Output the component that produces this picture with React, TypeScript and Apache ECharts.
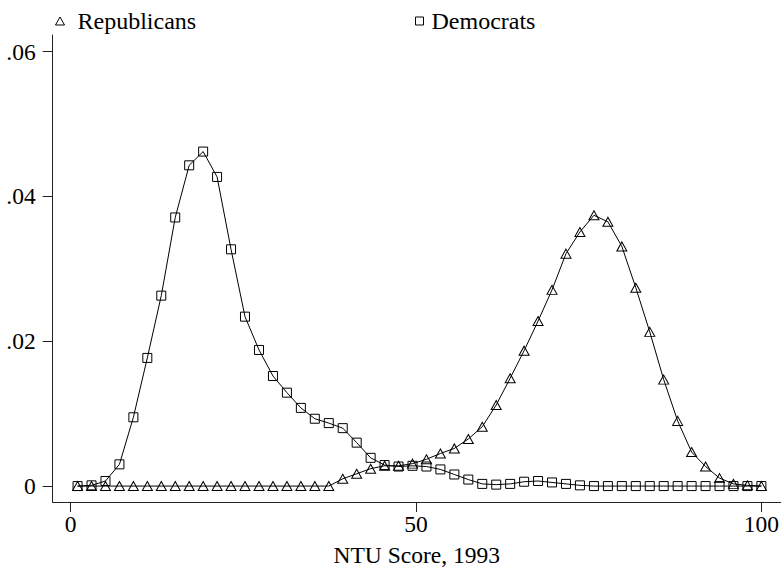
import React, { useEffect, useRef } from "react";
import * as echarts from "echarts";

const score = [
  1.0, 3.02, 5.04, 7.06, 9.08, 11.1, 13.12, 15.14, 17.16, 19.18,
  21.2, 23.22, 25.24, 27.27, 29.29, 31.31, 33.33, 35.35, 37.37, 39.39,
  41.41, 43.43, 45.45, 47.47, 49.49, 51.51, 53.53, 55.55, 57.57, 59.59,
  61.61, 63.63, 65.65, 67.67, 69.69, 71.71, 73.73, 75.76, 77.78, 79.8,
  81.82, 83.84, 85.86, 87.88, 89.9, 91.92, 93.94, 95.96, 97.98, 100.0,
];

const republicans = [
  0, 0, 0, 0, 0, 0, 0, 0, 0, 0,
  0, 0, 0, 0, 0, 0, 0, 0, 0, 0.001,
  0.0017, 0.0024, 0.0028, 0.0028, 0.0031, 0.0037, 0.0045, 0.0052, 0.0065, 0.0082,
  0.0112, 0.0149, 0.0187, 0.0228, 0.0271, 0.0321, 0.0351, 0.0374, 0.0365, 0.0331,
  0.0274, 0.0213, 0.0147, 0.009, 0.0047, 0.0027, 0.0011, 0.0003, 0.0001, 0,
];

const democrats = [
  0, 0.0001, 0.0007, 0.003, 0.0095, 0.0177, 0.0263, 0.0371, 0.0443, 0.0462,
  0.0427, 0.0327, 0.0234, 0.0188, 0.0152, 0.0129, 0.0108, 0.0093, 0.0087, 0.008,
  0.006, 0.0039, 0.0029, 0.0027, 0.0028, 0.0027, 0.0023, 0.0016, 0.0009, 0.0003,
  0.0002, 0.0003, 0.0006, 0.0007, 0.0005, 0.0003, 0.0001, 0, 0, 0,
  0, 0, 0, 0, 0, 0, 0, 0, 0, 0,
];

const xTicks = [0, 50, 100];
const yTicks = [0, 0.02, 0.04, 0.06];

const FONT = "Liberation Serif, Times New Roman, DejaVu Serif, serif";

export default function App() {
  const ref = useRef<HTMLDivElement>(null);
  useEffect(() => {
    if (!ref.current) return;
    const chart = echarts.init(ref.current, null, { renderer: "svg" });
    const marker = { color: "transparent", borderColor: "#000", borderWidth: 1 };
    chart.setOption({
      animation: false,
      backgroundColor: "#fff",
      textStyle: { fontFamily: FONT },
      grid: { left: 52.7, right: 0, top: 35, bottom: 69.3, containLabel: false },
      legend: [
        {
          data: [{ name: "Republicans", icon: "triangle" }],
          left: 55,
          top: 9,
          padding: 0,
          itemWidth: 9,
          itemHeight: 8,
          itemStyle: marker,
          textStyle: { fontFamily: FONT, fontSize: 24, color: "#000", padding: [0, 0, 0, 8] },
        },
        {
          data: [{ name: "Democrats", icon: "rect" }],
          left: 415,
          top: 9,
          padding: 0,
          itemWidth: 8,
          itemHeight: 8,
          itemStyle: marker,
          textStyle: { fontFamily: FONT, fontSize: 24, color: "#000", padding: [0, 0, 0, 3] },
        },
      ],
      xAxis: {
        type: "value",
        min: -2.6,
        max: 102.8,
        name: "NTU Score, 1993",
        nameLocation: "middle",
        nameGap: 41,
        nameTextStyle: { fontFamily: FONT, fontSize: 23.5, color: "#000" },
        axisLine: { show: true, onZero: false, lineStyle: { color: "#222", width: 1 } },
        axisTick: { show: true, customValues: xTicks, length: 10, lineStyle: { color: "#222" } },
        axisLabel: {
          customValues: xTicks,
          margin: 10,
          fontFamily: FONT,
          fontSize: 23.5,
          color: "#000",
        },
        splitLine: { show: false },
      },
      yAxis: {
        type: "value",
        min: -0.0022,
        max: 0.0623,
        axisLine: { show: true, onZero: false, lineStyle: { color: "#222", width: 1 } },
        axisTick: { show: true, customValues: yTicks, length: 10, lineStyle: { color: "#222" } },
        axisLabel: {
          customValues: yTicks,
          margin: 17,
          fontFamily: FONT,
          fontSize: 23.5,
          color: "#000",
          formatter: (v: number) => (v === 0 ? "0" : v.toFixed(2).replace(/^0/, "")),
        },
        splitLine: { show: false },
      },
      series: [
        {
          name: "Republicans",
          type: "line",
          data: score.map((x, i) => [x, republicans[i]]),
          symbol: "triangle",
          symbolSize: [10, 9],
          lineStyle: { color: "#000", width: 1 },
          itemStyle: marker,
        },
        {
          name: "Democrats",
          type: "line",
          data: score.map((x, i) => [x, democrats[i]]),
          symbol: "rect",
          symbolSize: 9,
          lineStyle: { color: "#000", width: 1 },
          itemStyle: marker,
        },
      ],
    });
    return () => chart.dispose();
  }, []);
  return (
    <div
      ref={ref}
      style={{ position: "fixed", left: 0, top: 0, width: 782, height: 572, background: "#fff" }}
    />
  );
}
